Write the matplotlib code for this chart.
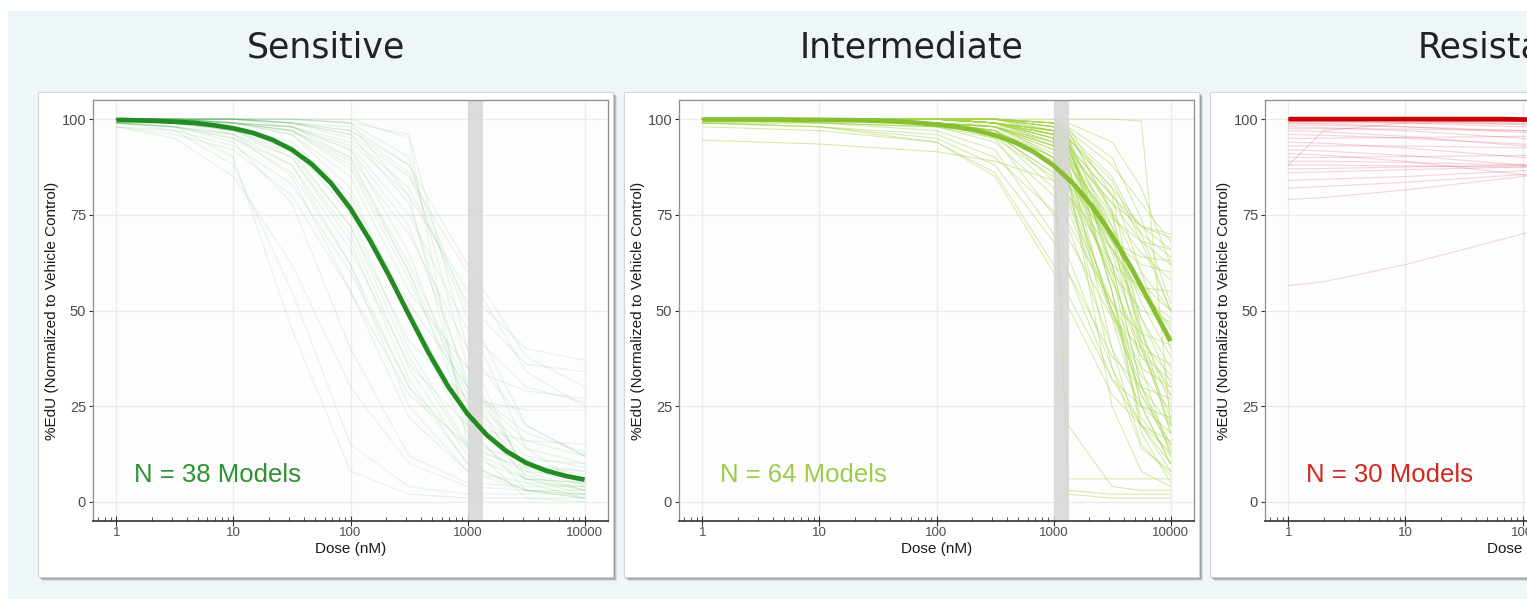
import matplotlib
matplotlib.use("Agg")
import matplotlib.pyplot as plt
from matplotlib.patches import Rectangle
from matplotlib.ticker import FixedLocator, FixedFormatter, LogLocator, NullFormatter

# ---- data ----
titles = ["Sensitive", "Intermediate", "Resistant"]
n_labels = ["N = 38 Models", "N = 64 Models", "N = 30 Models"]

x_ticks = [1, 10, 100, 1000, 10000]
x_ticklabels = ["1", "10", "100", "1000", "10000"]
y_ticks = [0, 25, 50, 75, 100]
band = (1000, 1350)

mean_doses = [1, 1.468, 2.154, 3.162, 4.642, 6.813, 10, 14.68, 21.54, 31.62,
              46.42, 68.13, 100, 146.8, 215.4, 316.2, 464.2, 681.3, 1000,
              1468, 2154, 3162, 4642, 6813, 10000]
sens_mean = [99.8, 99.7, 99.55, 99.3, 99.0, 98.4, 97.6, 96.4, 94.6, 92.0,
             88.3, 83.3, 76.6, 68.3, 58.9, 48.8, 39.0, 30.2, 23.0,
             17.4, 13.2, 10.2, 8.2, 6.8, 5.8]
int_mean = [99.9, 99.9, 99.9, 99.9, 99.9, 99.85, 99.8, 99.75, 99.7, 99.55,
            99.35, 99.05, 98.6, 98.0, 97.1, 95.8, 94.0, 91.4, 87.9,
            83.2, 77.1, 69.6, 61.0, 51.5, 42.0]
res_mean = [100, 100, 100, 100, 100, 100, 100, 100, 100, 100,
            100, 100, 99.9, 99.9, 99.9, 99.9, 99.9, 99.8, 99.8,
            99.8, 99.7, 99.7, 99.6, 99.6, 99.5]

sens_doses = [1, 3.16, 10, 31.6, 100, 316, 1000, 3162, 10000]
sens_curves = [
    [99, 98, 90, 45, 8, 2, 1, 1, 1],
    [99, 97, 88, 55, 15, 4, 2, 2, 2],
    [98, 95, 85, 62, 30, 10, 4, 3, 3],
    [99, 98, 94, 78, 40, 12, 5, 4, 4],
    [100, 99, 96, 85, 55, 22, 8, 5, 4],
    [99, 98, 95, 86, 62, 30, 14, 9, 8],
    [100, 99, 98, 93, 75, 40, 15, 8, 6],
    [100, 99, 98, 94, 80, 50, 22, 10, 7],
    [99, 99, 97, 92, 78, 52, 30, 18, 13],
    [100, 100, 99, 97, 88, 60, 28, 14, 10],
    [100, 100, 99, 97, 90, 70, 40, 20, 12],
    [100, 100, 99, 98, 93, 75, 45, 30, 26],
    [100, 100, 99, 98, 94, 80, 55, 40, 37],
    [100, 100, 100, 99, 95, 82, 52, 36, 34],
    [100, 100, 100, 99, 96, 85, 60, 34, 25],
    [100, 100, 100, 99, 98, 88, 50, 20, 12],
    [100, 100, 100, 100, 99, 90, 35, 8, 3],
    [100, 100, 100, 100, 99, 80, 20, 3, 1],
    [100, 100, 100, 100, 100, 95, 15, 1, 0],
    [100, 100, 100, 100, 99, 96, 40, 6, 2],
    [100, 100, 99, 98, 92, 65, 25, 10, 8],
    [99, 98, 96, 90, 70, 35, 12, 6, 5],
    [98, 96, 92, 80, 55, 28, 15, 11, 10],
    [99, 98, 95, 88, 66, 36, 20, 16, 15],
    [100, 99, 97, 91, 72, 42, 27, 24, 24],
    [100, 100, 99, 96, 85, 55, 35, 29, 27],
    [100, 99, 99, 96, 82, 48, 18, 6, 3],
    [100, 100, 99, 98, 92, 72, 32, 9, 4],
    [98, 97, 93, 83, 60, 30, 10, 3, 1],
    [100, 100, 100, 99, 97, 88, 62, 38, 30],
    [100, 100, 100, 98, 90, 60, 22, 7, 3],
    [99, 99, 97, 90, 68, 32, 10, 3, 2],
    [100, 100, 99, 97, 87, 58, 26, 12, 9],
    [100, 100, 100, 99, 96, 78, 30, 5, 1],
    [100, 99, 98, 92, 72, 38, 14, 6, 5],
    [100, 100, 99, 97, 89, 62, 30, 16, 12],
    [99, 98, 96, 88, 62, 25, 8, 3, 2],
    [100, 100, 100, 99, 97, 86, 48, 14, 4],
]

int_doses = [1, 10, 100, 316, 1000, 1334, 3162, 5623, 10000]
int_curves = [
    [100, 100, 99, 97, 84, 76, 49, 28, 14],
    [100, 100, 99, 95, 75, 64, 35, 20, 10],
    [99, 99, 97, 92, 70, 60, 32, 20, 13],
    [99, 98, 94, 85, 60, 51, 28, 20, 16],
    [100, 100, 99, 98, 90, 85, 68, 62, 60],
    [100, 100, 100, 99, 95, 92, 78, 72, 70],
    [100, 100, 100, 99, 96, 93, 80, 72, 69],
    [100, 100, 99, 98, 92, 88, 74, 68, 66],
    [100, 100, 99, 97, 88, 83, 68, 64, 63],
    [100, 100, 99, 96, 86, 80, 62, 56, 55],
    [100, 100, 100, 99, 97, 95, 82, 60, 40],
    [100, 100, 100, 100, 98, 96, 85, 70, 50],
    [100, 100, 100, 99, 96, 92, 70, 45, 25],
    [100, 100, 100, 100, 99, 98, 80, 45, 18],
    [100, 100, 100, 100, 99, 95, 55, 20, 8],
    [100, 100, 100, 100, 98, 85, 25, 8, 4],
    [100, 100, 100, 100, 96, 3, 2, 2, 2],
    [100, 100, 100, 99, 90, 6, 6, 6, 6],
    [100, 100, 100, 100, 97, 2, 1, 1, 1],
    [100, 100, 100, 100, 100, 100, 100, 99.5, 20],
    [99, 98, 95, 88, 68, 60, 38, 30, 27],
    [98, 97, 94, 86, 62, 54, 32, 25, 22],
    [94.5, 93.5, 91.5, 89, 84, 80, 66, 55, 46],
    [100, 100, 99, 98, 93, 90, 75, 65, 58],
    [100, 100, 100, 99, 94, 89, 66, 48, 35],
    [100, 100, 100, 99, 97, 94, 72, 48, 31],
    [100, 100, 99, 97, 88, 80, 52, 38, 32],
    [100, 100, 99, 98, 93, 87, 58, 38, 28],
    [100, 100, 100, 99, 95, 90, 65, 40, 22],
    [100, 100, 100, 100, 98, 95, 70, 35, 12],
    [100, 100, 100, 99, 97, 91, 55, 25, 10],
    [100, 100, 99, 97, 90, 83, 50, 28, 15],
    [100, 100, 99, 96, 82, 72, 40, 25, 18],
    [99, 98, 96, 90, 76, 69, 48, 40, 36],
    [100, 99, 98, 94, 80, 73, 52, 44, 41],
    [100, 100, 99, 97, 90, 85, 66, 54, 48],
    [100, 100, 100, 98, 94, 90, 72, 56, 45],
    [100, 100, 100, 99, 97, 95, 84, 68, 50],
    [100, 100, 100, 100, 99, 98, 90, 74, 52],
    [100, 100, 100, 100, 99, 99, 94, 82, 62],
    [100, 100, 100, 100, 98, 97, 88, 78, 68],
    [100, 100, 100, 99, 96, 93, 80, 70, 64],
    [100, 100, 99, 97, 89, 83, 60, 50, 47],
    [100, 100, 99, 98, 91, 85, 58, 40, 30],
    [100, 100, 100, 99, 96, 92, 68, 44, 28],
    [100, 100, 100, 99, 95, 88, 48, 22, 12],
    [100, 100, 100, 99, 94, 83, 35, 14, 8],
    [100, 100, 100, 100, 97, 89, 40, 15, 7],
    [100, 100, 100, 100, 99, 96, 60, 25, 10],
    [100, 100, 100, 100, 99, 97, 75, 40, 20],
    [100, 100, 99, 98, 92, 86, 62, 42, 33],
    [100, 99, 98, 95, 85, 78, 50, 35, 30],
    [100, 100, 100, 99, 93, 84, 50, 30, 20],
    [100, 100, 100, 100, 98, 94, 62, 30, 15],
    [100, 100, 100, 99, 97, 93, 62, 30, 13],
    [100, 100, 99, 98, 93, 89, 70, 57, 50],
    [100, 100, 100, 99, 96, 93, 76, 60, 50],
    [100, 100, 100, 99, 95, 91, 70, 52, 38],
    [99, 99, 98, 96, 86, 79, 50, 33, 24],
    [100, 100, 100, 100, 99, 97, 76, 42, 18],
    [100, 100, 100, 99, 95, 20, 4, 3, 3],
    [100, 100, 100, 100, 98, 94, 55, 18, 5],
    [100, 100, 99, 98, 94, 91, 78, 68, 62],
    [100, 100, 100, 99, 97, 95, 82, 72, 66],
]

res_doses = [1, 2, 10, 100, 1000, 10000]
res_curves = [
    [100, 100, 100, 100, 100, 100],
    [100, 100, 100, 99.5, 99, 98],
    [99.5, 99.4, 99, 98, 96, 93],
    [99, 98.8, 98, 96.5, 94, 90],
    [98, 97.8, 97, 95, 92, 88],
    [97, 96.7, 95.5, 93, 90, 86],
    [96, 95.8, 95, 93.5, 91, 88],
    [94, 93.7, 92.5, 90, 86, 80],
    [93, 93, 93, 92.5, 92, 91],
    [92, 91.7, 90.5, 88, 84, 78],
    [91, 90.6, 89, 85.5, 80, 72],
    [89, 89, 88.7, 88, 87, 85],
    [88, 88, 87.8, 87.5, 87, 86],
    [87, 87.1, 87.5, 88, 88.5, 89],
    [86, 86.2, 86.8, 87.5, 88, 88],
    [84, 84.3, 85, 86.5, 88, 89],
    [82, 82.4, 83.5, 85.5, 87, 88],
    [79, 79.5, 81.5, 85, 88, 90],
    [56.5, 57.5, 62, 70, 78, 85],
    [88, 97, 99, 99.5, 99, 98],
    [100, 100, 99.8, 99, 97, 95],
    [100, 100, 100, 100, 99.5, 99],
    [99.8, 99.8, 99.7, 99.5, 99, 97],
    [100, 100, 99.9, 99.8, 99.5, 99],
    [98.5, 98.4, 98, 97, 95, 92],
    [95, 95, 95.2, 95.5, 96, 96],
    [97.5, 97.5, 97.4, 97, 96, 94],
    [90, 90, 90.2, 90.5, 91, 91],
    [99, 99, 99, 98.8, 98.5, 98],
    [100, 99.9, 99.6, 98.5, 96, 92],
]

# ---- styling ----
thin_colors = ["#4caf50", "#a2d445", "#d0304a"]
thin_alpha = [0.12, 0.45, 0.2]
thin_lw = [0.9, 0.75, 0.8]
thick_colors = ["#228b22", "#86bf2f", "#cc0000"]
text_colors = ["#2d922d", "#9ccc48", "#d0281e"]

W, H = 1527, 599
fig = plt.figure(figsize=(W / 100, H / 100), dpi=100)
fig.patch.set_facecolor("white")

# slide background
fig.add_artist(Rectangle((8 / W, 0), 1, 1 - 11 / H, transform=fig.transFigure,
                         facecolor="#eef6f9", edgecolor="none", zorder=-10))

step = 586
card_left, card_w, card_top, card_bot = 38, 575, 92, 577
ax_left, ax_w, ax_top, ax_bot = 93, 515, 100, 521

panels = [
    (sens_doses, sens_curves, sens_mean),
    (int_doses, int_curves, int_mean),
    (res_doses, res_curves, res_mean),
]

for i, (doses, curves, mean) in enumerate(panels):
    off = i * step
    # card shadow + card
    for k, a in [(4, 0.15), (3, 0.25), (2, 0.35)]:
        fig.add_artist(Rectangle(((card_left + off + k) / W, 1 - (card_bot + k) / H),
                                 card_w / W, (card_bot - card_top) / H,
                                 transform=fig.transFigure, facecolor="#606060",
                                 edgecolor="none", alpha=a, zorder=-6))
    fig.add_artist(Rectangle(((card_left + off) / W, 1 - card_bot / H),
                             card_w / W, (card_bot - card_top) / H,
                             transform=fig.transFigure, facecolor="white",
                             edgecolor="#d4d4d4", lw=0.8, zorder=-5))
    # title
    fig.text((card_left + off + card_w / 2) / W, 1 - 47 / H, titles[i],
             fontsize=25, family="DejaVu Sans", color="#222222",
             ha="center", va="center")

    ax = fig.add_axes([(ax_left + off) / W, 1 - ax_bot / H, ax_w / W, (ax_bot - ax_top) / H])
    ax.set_facecolor("#fdfdfd")
    ax.set_xscale("log")
    ax.set_xlim(10 ** -0.2, 10 ** 4.2)
    ax.set_ylim(-5, 105)

    for c in curves:
        ax.plot(doses, c, color=thin_colors[i], alpha=thin_alpha[i], lw=thin_lw[i], zorder=2)
    ax.axvspan(band[0], band[1], color="#d6d6d6", alpha=0.85, lw=0, zorder=2.5)
    ax.plot(mean_doses, mean, color=thick_colors[i], lw=3.4, zorder=3,
            solid_capstyle="butt", solid_joinstyle="round")

    ax.text(1.4, 7, n_labels[i], color=text_colors[i], fontsize=18.5,
            family="Liberation Sans", ha="left", va="center", zorder=4)

    ax.xaxis.set_major_locator(FixedLocator(x_ticks))
    ax.xaxis.set_major_formatter(FixedFormatter(x_ticklabels))
    ax.xaxis.set_minor_locator(LogLocator(base=10, subs=range(2, 10), numticks=20))
    ax.xaxis.set_minor_formatter(NullFormatter())
    ax.set_yticks(y_ticks)
    ax.grid(True, which="major", color="#ebebeb", lw=0.9)
    ax.set_axisbelow(True)

    ax.tick_params(axis="x", which="major", direction="inout", length=7, width=0.8,
                   color="#333333", labelsize=9.5, labelcolor="#4d4d4d", pad=1)
    ax.tick_params(axis="x", which="minor", direction="in", length=3, width=0.6,
                   color="#333333")
    ax.tick_params(axis="y", direction="out", length=3, width=0.8, color="#333333",
                   labelsize=10.5, labelcolor="#4d4d4d", pad=2)
    for lab in ax.get_xticklabels() + ax.get_yticklabels():
        lab.set_family("Liberation Sans")

    for s in ["top", "right", "left"]:
        ax.spines[s].set_color("#8c8c8c")
        ax.spines[s].set_linewidth(0.9)
    ax.spines["bottom"].set_color("#333333")
    ax.spines["bottom"].set_linewidth(1.2)

    ax.set_xlabel("Dose (nM)", fontsize=11, family="Liberation Sans",
                  color="#1a1a1a", labelpad=2)
    ax.set_ylabel("%EdU (Normalized to Vehicle Control)", fontsize=11,
                  family="Liberation Sans", color="#1a1a1a", labelpad=2)

fig.savefig("out.png", dpi=100)
